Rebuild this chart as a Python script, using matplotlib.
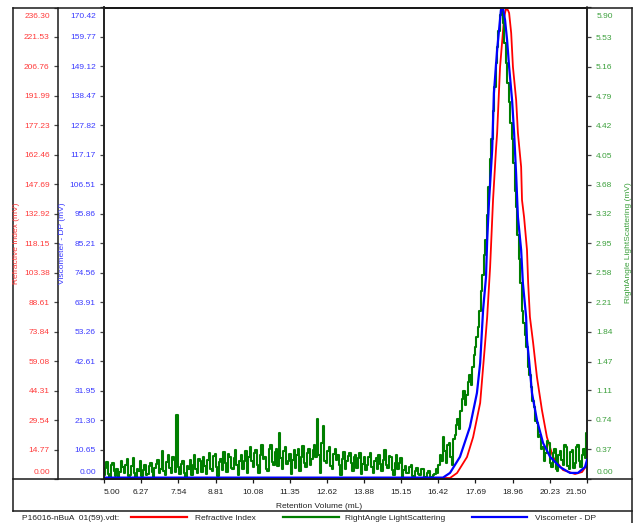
import numpy as np
import matplotlib
matplotlib.use('Agg')
from matplotlib import pyplot as plt
from matplotlib.lines import Line2D

plt.rcParams['font.family'] = ['Liberation Sans', 'DejaVu Sans']

# Refractive index (mV) against retention volume (mL)
ri_volume = [5.00, 16.82, 17.06, 17.40, 17.61, 17.85, 18.02, 18.09, 18.19, 18.29,
             18.39, 18.43, 18.53, 18.67, 18.73, 18.80, 18.84, 18.91, 18.97, 19.08,
             19.14, 19.25, 19.28, 19.35, 19.45, 19.49, 19.55, 19.66, 19.79, 19.96,
             20.13, 20.34, 20.68, 21.09, 21.33, 21.50]
ri_signal = [0.5, 0.5, 3.0, 11.0, 21.0, 38.1, 68.2, 81.2, 106.2, 139.8,
             164.9, 173.4, 206.5, 231.5, 235.5, 235.0, 233.5, 223.5, 206.5, 189.9,
             173.4, 156.4, 139.8, 131.3, 114.8, 98.2, 81.2, 68.2, 51.1, 34.6,
             21.0, 11.0, 4.5, 2.5, 3.5, 7.0]

# Viscometer DP (mV)
visc_volume = [5.00, 16.58, 16.82, 17.16, 17.50, 17.74, 17.85, 17.95, 18.05, 18.09,
               18.15, 18.26, 18.32, 18.43, 18.56, 18.63, 18.70, 18.77, 18.84, 18.94,
               19.01, 19.08, 19.14, 19.25, 19.31, 19.42, 19.45, 19.52, 19.62, 19.79,
               20.00, 20.24, 20.58, 20.92, 21.19, 21.43, 21.50]
visc_signal = [0.5, 0.5, 2.2, 8.0, 18.8, 31.1, 41.9, 61.1, 73.0, 86.4,
               99.8, 118.9, 139.5, 155.1, 169.5, 170.2, 165.9, 158.7, 148.9, 137.0,
               125.1, 109.9, 94.7, 82.8, 70.8, 58.6, 50.2, 43.0, 31.1, 21.3,
               13.0, 8.0, 4.3, 2.2, 2.2, 4.3, 6.9]

# Right angle light scattering (mV), read every 0.05 mL (one row per mL)
ls_volume = np.round(np.arange(5.0, 21.525, 0.05), 2)
ls_signal = [
    0.05, 0.14, 0.21, 0.06, 0.02, 0.17, 0.20, 0.10, 0.04, 0.12, 0.03, 0.09, 0.23, 0.15, 0.08, 0.18, 0.25, 0.04, 0.05, 0.16,
    0.26, 0.08, 0.02, 0.13, 0.10, 0.22, 0.04, 0.11, 0.18, 0.05, 0.06, 0.16, 0.20, 0.09, 0.03, 0.14, 0.19, 0.24, 0.07, 0.12,
    0.35, 0.10, 0.05, 0.21, 0.30, 0.14, 0.08, 0.27, 0.24, 0.09, 0.80, 0.15, 0.06, 0.19, 0.22, 0.07, 0.02, 0.16, 0.12, 0.24,
    0.05, 0.18, 0.30, 0.12, 0.08, 0.25, 0.22, 0.09, 0.28, 0.16, 0.06, 0.24, 0.33, 0.13, 0.10, 0.29, 0.31, 0.15, 0.04, 0.21,
    0.25, 0.11, 0.34, 0.20, 0.09, 0.31, 0.27, 0.14, 0.12, 0.26, 0.36, 0.18, 0.05, 0.23, 0.30, 0.12, 0.22, 0.35, 0.07, 0.28,
    0.40, 0.22, 0.15, 0.33, 0.36, 0.17, 0.08, 0.30, 0.42, 0.25, 0.28, 0.12, 0.10, 0.37, 0.43, 0.21, 0.18, 0.34, 0.38, 0.16,
    0.58, 0.26, 0.12, 0.35, 0.40, 0.19, 0.22, 0.31, 0.06, 0.24, 0.36, 0.14, 0.30, 0.38, 0.10, 0.27, 0.41, 0.20, 0.15, 0.33,
    0.38, 0.18, 0.25, 0.36, 0.42, 0.28, 0.75, 0.30, 0.08, 0.45, 0.66, 0.22, 0.20, 0.35, 0.40, 0.16, 0.12, 0.31, 0.38, 0.24,
    0.30, 0.17, 0.05, 0.25, 0.34, 0.12, 0.22, 0.29, 0.33, 0.20, 0.10, 0.27, 0.30, 0.14, 0.26, 0.32, 0.06, 0.19, 0.28, 0.11,
    0.18, 0.27, 0.33, 0.15, 0.08, 0.22, 0.26, 0.12, 0.30, 0.19, 0.10, 0.24, 0.36, 0.17, 0.14, 0.29, 0.28, 0.11, 0.05, 0.20,
    0.30, 0.13, 0.20, 0.26, 0.03, 0.11, 0.16, 0.07, 0.08, 0.15, 0.18, 0.04, 0.02, 0.10, 0.14, 0.06, 0.05, 0.13, 0.12, 0.03,
    0.03, 0.07, 0.10, 0.02, 0.02, 0.05, 0.06, 0.12, 0.08, 0.18, 0.30, 0.22, 0.53, 0.35, 0.20, 0.42, 0.45, 0.28, 0.18, 0.50,
    0.55, 0.68, 0.75, 0.62, 0.85, 1.00, 1.10, 0.92, 1.05, 1.22, 1.30, 1.18, 1.40, 1.55, 1.65, 1.78, 1.90, 2.10, 2.35, 2.55,
    2.80, 2.99, 3.30, 3.65, 4.00, 4.25, 4.60, 4.90, 5.20, 5.40, 5.60, 5.80, 5.88, 5.70, 5.45, 5.20, 4.95, 4.72, 4.45, 4.25,
    3.95, 3.60, 3.40, 3.05, 2.75, 2.45, 2.10, 1.95, 1.80, 1.65, 1.40, 1.30, 1.15, 0.98, 0.90, 0.72, 0.70, 0.52, 0.55, 0.38,
    0.40, 0.22, 0.32, 0.48, 0.45, 0.20, 0.15, 0.33, 0.38, 0.12, 0.10, 0.30, 0.35, 0.24, 0.18, 0.42, 0.40, 0.16, 0.12, 0.34,
    0.36, 0.14, 0.20, 0.40, 0.42, 0.22, 0.15, 0.30, 0.38, 0.26, 0.58]

x_labels = ['5.00', '6.27', '7.54', '8.81', '10.08', '11.35', '12.62', '13.88',
            '15.15', '16.42', '17.69', '18.96', '20.23', '21.50']
ri_labels = ['0.00', '14.77', '29.54', '44.31', '59.08', '73.84', '88.61', '103.38',
             '118.15', '132.92', '147.69', '162.46', '177.23', '191.99', '206.76',
             '221.53', '236.30']
visc_labels = ['0.00', '10.65', '21.30', '31.95', '42.61', '53.26', '63.91', '74.56',
               '85.21', '95.86', '106.51', '117.17', '127.82', '138.47', '149.12',
               '159.77', '170.42']
ls_labels = ['0.00', '0.37', '0.74', '1.11', '1.47', '1.84', '2.21', '2.58', '2.95',
             '3.32', '3.68', '4.05', '4.42', '4.79', '5.16', '5.53', '5.90']

legend_file = 'P16016-nBuA  01(59).vdt:'
legend_names = ['Refractive Index', 'RightAngle LightScattering', 'Viscometer - DP']

W, H = 639, 523
def fx(px):
    return px / W
def fy(py):
    return 1 - py / H

red, green, blue = '#ff0000', '#007f00', '#0000ff'
red_txt, green_txt, blue_txt = '#ff3b3b', '#3ca03c', '#3b3bff'
frame = '#1a1a1a'

fig = plt.figure(figsize=(W / 100, H / 100), dpi=100)
ax_ri = fig.add_axes([fx(104), fy(479), fx(587) - fx(104), fy(7.5) - fy(479)])
ax_ls = ax_ri.twinx()
ax_vis = ax_ri.twinx()

ax_ri.plot(ri_volume, ri_signal, color=red, lw=1.3)
ax_ls.plot(ls_volume, ls_signal, color=green, lw=1.5, drawstyle='steps-mid')
ax_vis.plot(visc_volume, visc_signal, color=blue, lw=1.6)

ax_ri.set_xlim(5.0, 21.5)
ax_ri.set_ylim(0, 236.30)
ax_ls.set_ylim(0, 5.90)
ax_vis.set_ylim(0, 170.42)

# end labels of each y axis are drawn separately, pulled inside the box
def inner(labels):
    return [''] + labels[1:-1] + ['']

ax_ri.set_xticks([float(s) for s in x_labels])
ax_ri.set_xticklabels(x_labels)
ax_ri.set_yticks([float(s) for s in ri_labels])
ax_ri.set_yticklabels(inner(ri_labels))
ax_ls.set_yticks([float(s) for s in ls_labels])
ax_ls.set_yticklabels(inner(ls_labels))
ax_vis.set_yticks([float(s) for s in visc_labels])
ax_vis.set_yticklabels(inner(visc_labels))

ax_ri.spines['left'].set_position(('axes', (58 - 104) / 483))
ax_vis.spines['right'].set_visible(False)
ax_vis.spines['left'].set_visible(True)
ax_vis.yaxis.tick_left()
for a in (ax_ri, ax_ls, ax_vis):
    for s in a.spines.values():
        s.set_color(frame)
        s.set_linewidth(1.1)

ax_ri.tick_params(axis='x', direction='out', length=3, width=0.9, pad=4,
                  labelsize=6, colors=frame, labelcolor='#222222')
ax_ri.tick_params(axis='y', direction='out', length=3, width=0.9, pad=3,
                  labelsize=6, colors='#444444', labelcolor=red_txt)
ax_vis.tick_params(axis='y', direction='out', length=3, width=0.9, pad=3,
                   labelsize=6, colors='#444444', labelcolor=blue_txt)
ax_ls.tick_params(axis='y', direction='out', length=3, width=0.9, pad=3.5,
                  labelsize=6, colors='#444444', labelcolor=green_txt)

xl = ax_ri.get_xticklabels()
xl[0].set_ha('left')
xl[-1].set_ha('right')

for labels, px, ha, c in [(ri_labels, 50, 'right', red_txt),
                          (visc_labels, 96, 'right', blue_txt),
                          (ls_labels, 597, 'left', green_txt)]:
    fig.text(fx(px), fy(16), labels[-1], fontsize=6, color=c, ha=ha, va='center')
    fig.text(fx(px), fy(473), labels[0], fontsize=6, color=c, ha=ha, va='center')

fig.text(fx(17), fy(243), 'Refractive Index (mV)', rotation=90, color=red_txt,
         fontsize=6, ha='center', va='center')
fig.text(fx(62), fy(243), 'Viscometer - DP (mV)', rotation=90, color=blue_txt,
         fontsize=6, ha='center', va='center')
fig.text(fx(628), fy(243), 'RightAngle LightScattering (mV)', rotation=90,
         color=green_txt, fontsize=6, ha='center', va='center')
fig.text(0.5, fy(507), 'Retention Volume (mL)', fontsize=6, color='#222222',
         ha='center', va='center')

# outer frame
def fline(xs, ys):
    fig.add_artist(Line2D([fx(v) for v in xs], [fy(v) for v in ys],
                          transform=fig.transFigure, color=frame, lw=1.1))
fline([13, 632], [7.5, 7.5])
fline([13, 13], [7.5, 511])
fline([632, 632], [7.5, 523])
fline([13, 632], [479, 479])
fline([13, 632], [511, 511])

# legend strip
fig.text(fx(22), fy(519), legend_file, fontsize=6, color='#222222', va='center')
for (x0, x1, tx), name, c in zip([(131, 187, 195), (283, 339, 345), (472, 527, 535)],
                                 legend_names, [red, green, blue]):
    fig.add_artist(Line2D([fx(x0), fx(x1)], [fy(517), fy(517)],
                          transform=fig.transFigure, color=c, lw=1.6))
    fig.text(fx(tx), fy(519), name, fontsize=6, color='#222222', va='center')

fig.savefig('out.png', dpi=100)
